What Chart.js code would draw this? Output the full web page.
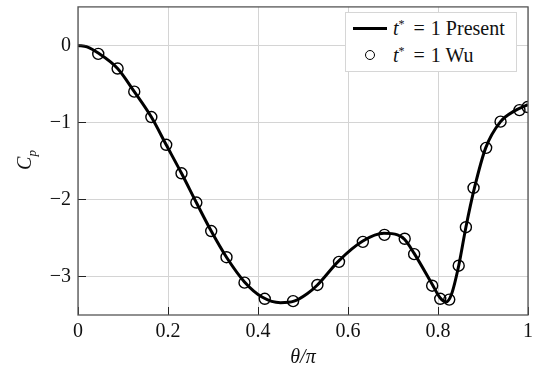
<!DOCTYPE html>
<html>
<head>
<meta charset="utf-8">
<script src="https://cdn.jsdelivr.net/npm/chart.js@4"></script>
<style>
    body { margin: 0; background: #fff; }
    #wrap { position: relative; width: 535px; height: 371px; font-family: "Liberation Serif", serif; color: #111; }
    #chart { position: absolute; left: 0; top: 0; }
    .ytitle { position: absolute; left: -6px; top: 148px; width: 60px; height: 24px; line-height: 24px;
        text-align: center; font-size: 20px; transform: rotate(-90deg); }
    .xtitle { position: absolute; left: 78px; width: 450px; top: 344px; line-height: 24px;
        text-align: center; font-size: 20px; font-style: italic; }
    .legend { position: absolute; left: 345px; top: 12px; width: 172px; height: 60px;
        background: #fff; border: 1px solid #d6d6d6; box-sizing: border-box; font-size: 20px; }
    .row { position: absolute; left: 0; height: 24px; line-height: 24px; white-space: nowrap; }
    .row .txt { position: absolute; left: 47px; top: 0; }
    .eq { margin: 0 1px 0 4px; }
    .swatch { position: absolute; left: 7px; top: 11px; width: 34px; height: 3px; background: #000; }
    .dot { position: absolute; left: 19px; top: 7px; width: 8px; height: 8px; border: 1.4px solid #000; border-radius: 50%; }
    sup { font-size: 12px; vertical-align: 7px; line-height: 0; }
    sub { font-size: 13px; vertical-align: -5px; line-height: 0; }
</style>
</head>
<body>
<div id="wrap">
    <canvas id="chart" width="535" height="371"></canvas>
    <div class="ytitle"><i>C</i><sub><i>p</i></sub></div>
    <div class="xtitle">θ/π</div>
    <div class="legend">
        <div class="row" style="top:3px"><div class="swatch"></div><span class="txt"><i>t</i><sup>*</sup> <span class="eq">=</span> 1 Present</span></div>
        <div class="row" style="top:30px"><div class="dot"></div><span class="txt"><i>t</i><sup>*</sup> <span class="eq">=</span> 1 Wu</span></div>
    </div>
</div>
<script>
// ticks
const xTicks = [0, 0.2, 0.4, 0.6, 0.8, 1];
const yTicks = [-3, -2, -1, 0];

// present (line)
const presTheta = [0, 0.02, 0.045, 0.088, 0.125, 0.163, 0.196, 0.23, 0.263, 0.296, 0.33, 0.37, 0.41, 0.45, 0.48, 0.51, 0.532, 0.579, 0.633, 0.68, 0.71, 0.726, 0.747, 0.787, 0.805, 0.818, 0.83, 0.846, 0.862, 0.881, 0.906, 0.939, 0.97, 1.0];
const presCp = [0, -0.02, -0.10, -0.30, -0.60, -0.93, -1.29, -1.66, -2.04, -2.41, -2.75, -3.07, -3.27, -3.34, -3.32, -3.22, -3.11, -2.80, -2.54, -2.44, -2.46, -2.52, -2.70, -3.10, -3.28, -3.33, -3.23, -2.86, -2.36, -1.85, -1.33, -0.99, -0.85, -0.77];

// Wu (circles)
const wuTheta = [0.045, 0.088, 0.125, 0.163, 0.196, 0.230, 0.263, 0.296, 0.330, 0.370, 0.415, 0.478, 0.532, 0.580, 0.633, 0.681, 0.726, 0.747, 0.787, 0.805, 0.825, 0.846, 0.862, 0.879, 0.907, 0.939, 0.981, 0.999];
const wuCp = [-0.11, -0.30, -0.60, -0.93, -1.29, -1.66, -2.04, -2.41, -2.75, -3.08, -3.29, -3.32, -3.11, -2.81, -2.55, -2.46, -2.51, -2.71, -3.12, -3.29, -3.30, -2.86, -2.36, -1.85, -1.33, -0.99, -0.84, -0.80];

const font = { family: "Liberation Serif", size: 20 };

// marco y ticks hacia dentro
const framePlugin = {
    id: "frame",
    afterDatasetsDraw(chart) {
        const { ctx, chartArea: a, scales } = chart;
        ctx.save();
        ctx.strokeStyle = "#222";
        ctx.lineWidth = 1;
        ctx.beginPath();
        xTicks.forEach(v => {
            const px = Math.round(scales.x.getPixelForValue(v)) + 0.5;
            ctx.moveTo(px, a.bottom);
            ctx.lineTo(px, a.bottom - 8);
        });
        yTicks.forEach(v => {
            const py = Math.round(scales.y.getPixelForValue(v)) + 0.5;
            ctx.moveTo(a.left, py);
            ctx.lineTo(a.left + 8, py);
        });
        ctx.stroke();
        ctx.strokeStyle = "#555";
        ctx.lineWidth = 1.3;
        ctx.strokeRect(a.left, a.top, a.right - a.left, a.bottom - a.top);
        ctx.restore();
    }
};

const ctx = document.getElementById("chart").getContext("2d");

new Chart(ctx, {
    type: "line",
    data: {
        datasets: [
            {
                label: "t* = 1 Present",
                data: presTheta.map((x, i) => ({ x: x, y: presCp[i] })),
                borderColor: "#000",
                borderWidth: 3,
                pointRadius: 0,
                cubicInterpolationMode: "monotone",
                fill: false
            },
            {
                label: "t* = 1 Wu",
                data: wuTheta.map((x, i) => ({ x: x, y: wuCp[i] })),
                showLine: false,
                pointStyle: "circle",
                pointRadius: 5.5,
                pointBorderWidth: 1.4,
                pointBorderColor: "#000",
                pointBackgroundColor: "rgba(0,0,0,0)"
            }
        ]
    },
    options: {
        responsive: false,
        animation: false,
        devicePixelRatio: 1,
        layout: { padding: { top: 5, right: 7, left: 0, bottom: 0 } },
        plugins: {
            legend: { display: false },
            tooltip: { enabled: false }
        },
        scales: {
            x: {
                type: "linear",
                min: 0,
                max: 1,
                afterBuildTicks: s => { s.ticks = xTicks.map(v => ({ value: v })); },
                afterFit: s => { s.height = 56; s.paddingLeft = 0; s.paddingRight = 0; },
                grid: { color: "#d4d4d4", lineWidth: 1, drawTicks: false },
                border: { display: false },
                ticks: {
                    font: font,
                    color: "#111",
                    padding: 5,
                    maxRotation: 0,
                    callback: v => String(v)
                }
            },
            y: {
                type: "linear",
                min: -3.5,
                max: 0.5,
                afterBuildTicks: s => { s.ticks = yTicks.map(v => ({ value: v })); },
                afterFit: s => { s.width = 78; s.paddingTop = 0; s.paddingBottom = 0; },
                grid: { color: "#d4d4d4", lineWidth: 1, drawTicks: false },
                border: { display: false },
                ticks: {
                    font: font,
                    color: "#111",
                    padding: 7,
                    callback: v => String(v).replace("-", "\u2212")
                }
            }
        }
    },
    plugins: [framePlugin]
});
</script>
</body>
</html>
